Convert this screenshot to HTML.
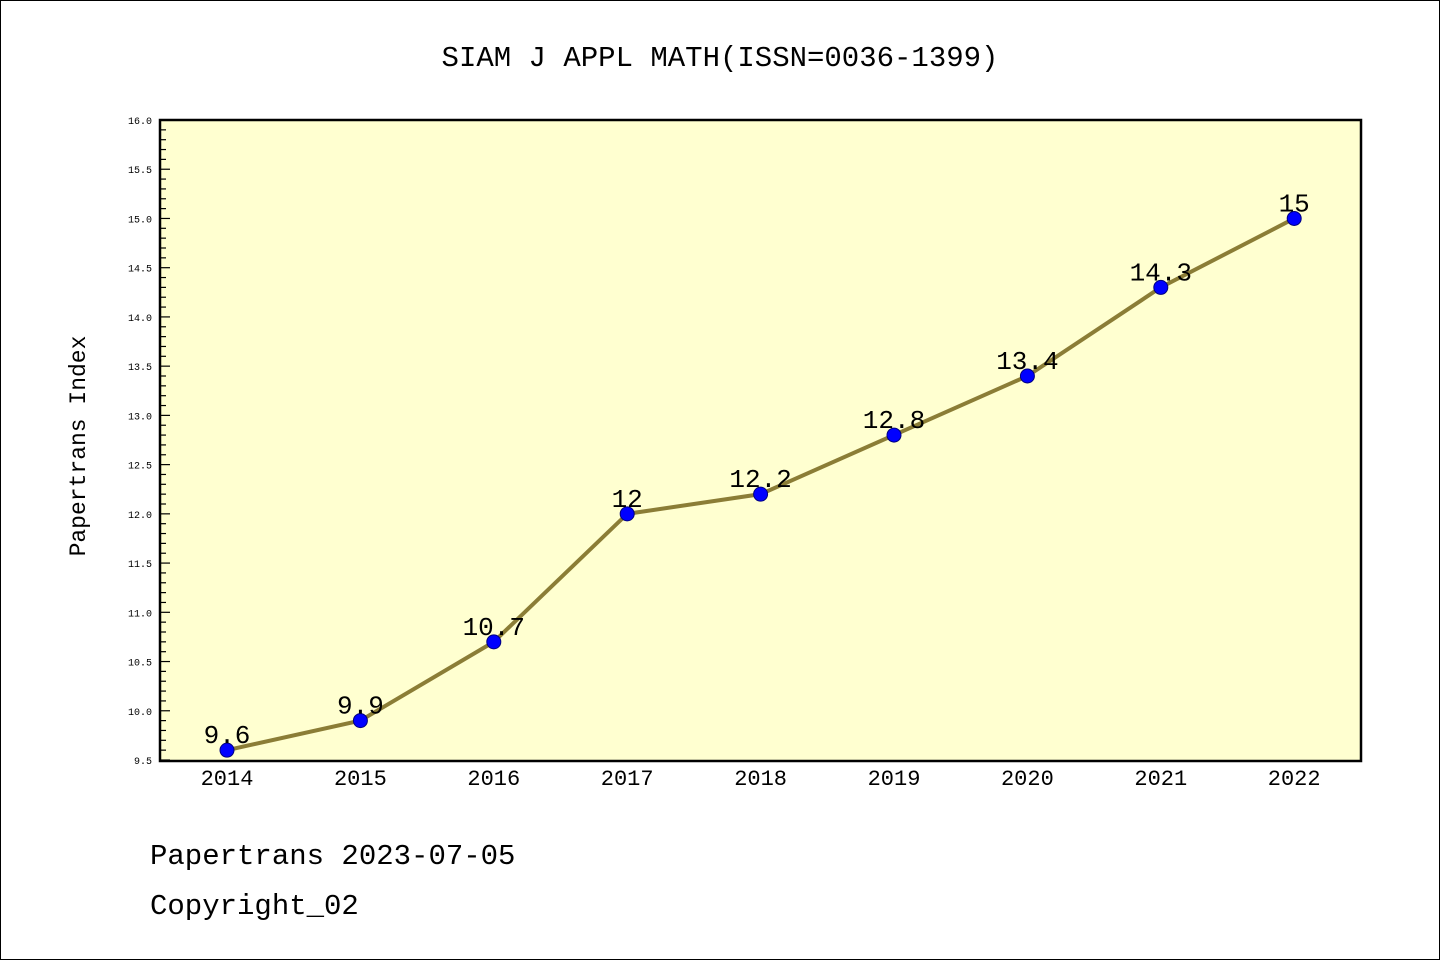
<!DOCTYPE html>
<html><head><meta charset="utf-8"><style>
body{margin:0;background:#fff}
svg{display:block}
text{font-family:"Liberation Mono","WenQuanYi Zen Hei",monospace}
</style></head><body>
<svg id="chart" width="1440" height="960">
<rect x="0.5" y="0.5" width="1439" height="959" fill="#fff" stroke="#000"/>
<text x="720" y="66" text-anchor="middle" font-size="29">SIAM J APPL MATH(ISSN=0036-1399)</text>
<rect x="160" y="120" width="1201" height="641" fill="#ffffd0"/>
<g id="yticks"></g>
<g id="xticks"></g>
<g id="series"></g>
<rect x="160" y="120" width="1201" height="641" fill="none" stroke="#000" stroke-width="2.5"/>
<text transform="translate(85,446) rotate(-90)" text-anchor="middle" font-size="23">Papertrans Index</text>
<text x="150" y="864" font-size="29">Papertrans 2023-07-05</text>
<text x="150" y="914" font-size="29">Copyright_02</text>
</svg>
<script>
const years=["2014","2015","2016","2017","2018","2019","2020","2021","2022"];
const values=[9.6,9.9,10.7,12,12.2,12.8,13.4,14.3,15];
const labels=["9.6","9.9","10.7","12","12.2","12.8","13.4","14.3","15"];
const yTicks=["9.5","10.0","10.5","11.0","11.5","12.0","12.5","13.0","13.5","14.0","14.5","15.0","15.5","16.0"];
const NS="http://www.w3.org/2000/svg";
const y=v=>760-(v-9.5)*(640/6.5);
const x=i=>227+i*133.4;
function mk(t,a,p){const e=document.createElementNS(NS,t);for(const k in a)e.setAttribute(k,a[k]);p.appendChild(e);return e;}
const yg=document.getElementById('yticks');
for(let k=0;k<=65;k++){const v=9.5+k*0.1;const major=k%5===0;
 const l=mk('line',{x1:160,x2:160+(major?10:6),y1:y(v),y2:y(v),stroke:'#000','stroke-width':1.2},yg);
 
 }
yTicks.forEach(s=>{const t=mk('text',{x:152,y:y(parseFloat(s))+4,'text-anchor':'end','font-size':10},yg);t.textContent=s;
 
 });
const xg=document.getElementById('xticks');
years.forEach((s,i)=>{const t=mk('text',{x:x(i),y:785,'text-anchor':'middle','font-size':22},xg);t.textContent=s;
 
 });
const sg=document.getElementById('series');
const pl=mk('polyline',{points:values.map((v,i)=>x(i)+','+y(v)).join(' '),fill:'none',stroke:'#8b7d36','stroke-width':4},sg);


values.forEach((v,i)=>{const c=mk('circle',{cx:x(i),cy:y(v),r:7,fill:'#0000ff',stroke:'#00007f','stroke-width':1},sg);
 
 
 const t=mk('text',{x:x(i),y:y(v)-7,'text-anchor':'middle','font-size':26},sg);t.textContent=labels[i];
 
 });
</script>
</body></html>
